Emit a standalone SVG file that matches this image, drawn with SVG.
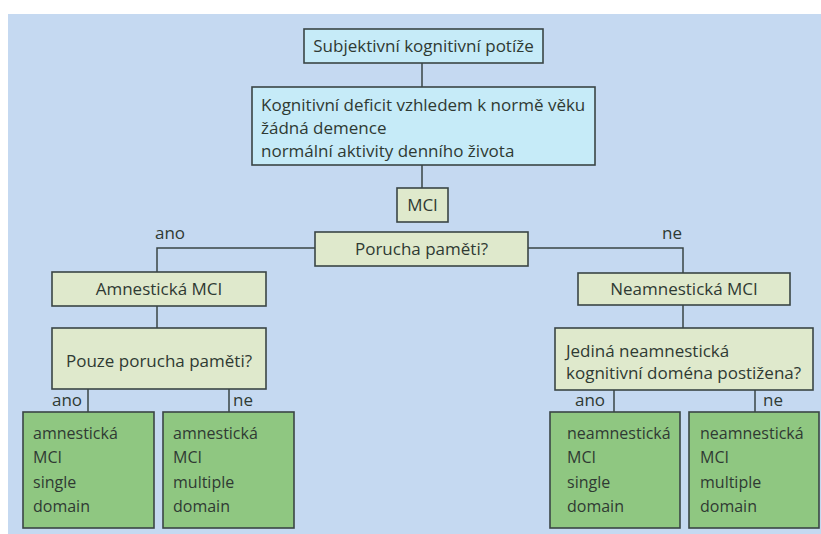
<svg xmlns="http://www.w3.org/2000/svg" width="821" height="534" viewBox="0 0 821 534">
<style>
.t{font-family:"Open Sans","Liberation Sans",sans-serif;font-size:17px;fill:#2f3a33}
.s{font-size:16px}
.c{text-anchor:middle}
.b{stroke:#3a4545;stroke-width:1.6}
.cy{fill:#c6ebf8}
.lg{fill:#dfe9cc}
.dg{fill:#8fc781}
.ln{stroke:#3a4545;stroke-width:1.5;fill:none}
</style>
<rect x="0" y="0" width="821" height="534" fill="#ffffff"/>
<rect x="8" y="14" width="813" height="520" fill="#c5d9f1"/>
<g id="connectors">
<path class="ln" d="M422 63V87M422 165V188"/>
<path class="ln" d="M315 248H157V272M528 248H683V273"/>
<path class="ln" d="M157 306V328M683 305V328"/>
<path class="ln" d="M88 389V412M229 389V412M614 390V412M755 390V412"/>
<text class="t c" x="170" y="239">ano</text>
<text class="t c" x="672" y="239">ne</text>
<text class="t c" x="67" y="406">ano</text>
<text class="t c" x="243" y="406">ne</text>
<text class="t c" x="590" y="406">ano</text>
<text class="t c" x="773" y="406">ne</text>
</g>
<g id="n1"><rect class="b cy" x="304" y="29" width="239" height="34"/><text class="t c" x="423.5" y="52">Subjektivní kognitivní potíže</text></g>
<g id="n2"><rect class="b cy" x="252" y="87" width="343" height="78"/>
<text class="t" x="261" y="111">Kognitivní deficit vzhledem k normě věku</text>
<text class="t" x="261" y="134">žádná demence</text>
<text class="t" x="261" y="157">normální aktivity denního života</text></g>
<g id="n3"><rect class="b lg" x="397" y="188" width="51" height="34"/><text class="t c" x="422.5" y="211">MCI</text></g>
<g id="n4"><rect class="b lg" x="315" y="232" width="213" height="34"/><text class="t c" x="421.5" y="255">Porucha paměti?</text></g>
<g id="n5"><rect class="b lg" x="52" y="272" width="214" height="34"/><text class="t c" x="159" y="295">Amnestická MCI</text></g>
<g id="n6"><rect class="b lg" x="578" y="273" width="212" height="32"/><text class="t c" x="684" y="295">Neamnestická MCI</text></g>
<g id="n7"><rect class="b lg" x="52" y="328" width="214" height="61"/><text class="t c" x="159" y="367">Pouze porucha paměti?</text></g>
<g id="n8"><rect class="b lg" x="555" y="328" width="258" height="62"/>
<text class="t" x="566" y="357">Jediná neamnestická</text>
<text class="t" x="566" y="379">kognitivní doména postižena?</text></g>
<g id="n9"><rect class="b dg" x="23" y="412" width="131" height="116"/>
<text class="t s" x="33" y="439">amnestická</text><text class="t s" x="33" y="463">MCI</text><text class="t s" x="33" y="488">single</text><text class="t s" x="33" y="512">domain</text></g>
<g id="n10"><rect class="b dg" x="163" y="412" width="131" height="116"/>
<text class="t s" x="173" y="439">amnestická</text><text class="t s" x="173" y="463">MCI</text><text class="t s" x="173" y="488">multiple</text><text class="t s" x="173" y="512">domain</text></g>
<g id="n11"><rect class="b dg" x="550" y="412" width="130" height="116"/>
<text class="t s" x="567" y="439">neamnestická</text><text class="t s" x="567" y="463">MCI</text><text class="t s" x="567" y="488">single</text><text class="t s" x="567" y="512">domain</text></g>
<g id="n12"><rect class="b dg" x="689" y="412" width="130" height="116"/>
<text class="t s" x="700" y="439">neamnestická</text><text class="t s" x="700" y="463">MCI</text><text class="t s" x="700" y="488">multiple</text><text class="t s" x="700" y="512">domain</text></g>
</svg>
